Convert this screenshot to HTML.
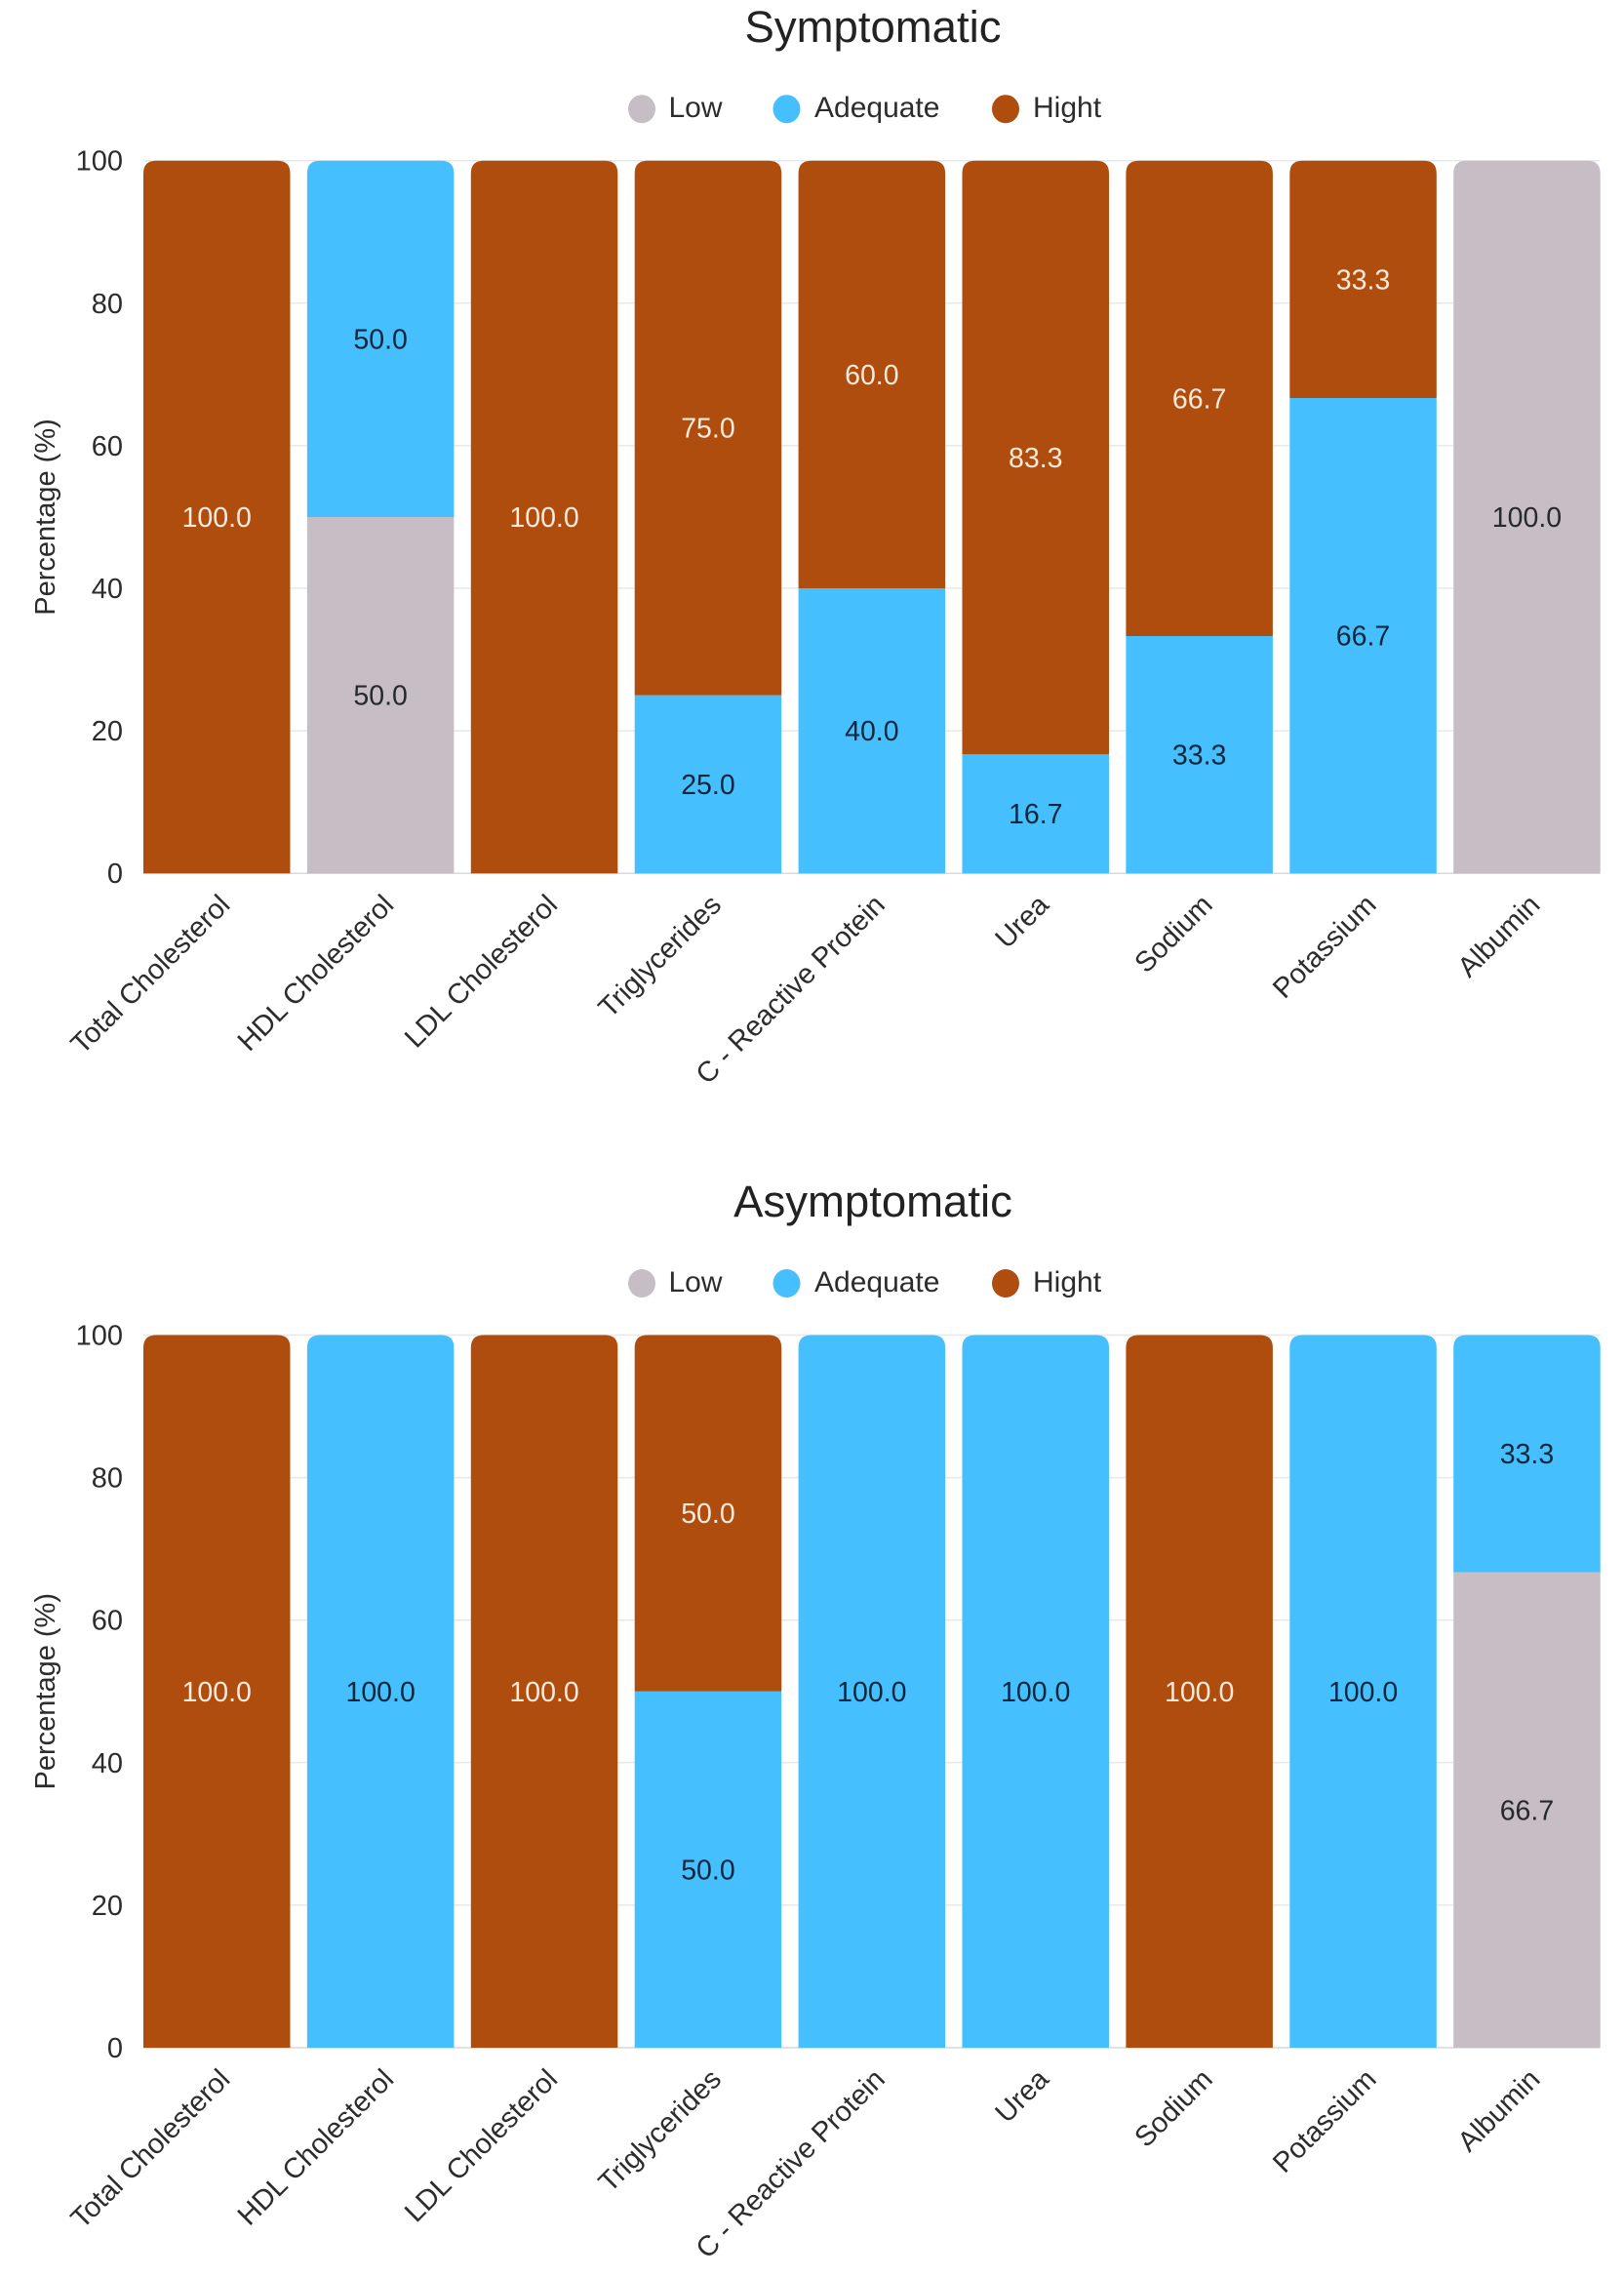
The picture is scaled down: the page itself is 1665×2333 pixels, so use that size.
<!DOCTYPE html>
<html lang="en">
<head>
<meta charset="utf-8">
<title>Symptomatic and Asymptomatic stacked bars</title>
<style>
  html, body { margin: 0; padding: 0; background: #fff; }
  #stage { display: block; width: 1665px; height: 2333px; }
  text { font-family: "Liberation Sans", sans-serif; }
</style>
</head>
<body>
<svg id="stage" xmlns="http://www.w3.org/2000/svg" width="1665" height="2333" viewBox="0 0 1665 2333"></svg>
<script>
const categories = ["Total Cholesterol", "HDL Cholesterol", "LDL Cholesterol", "Triglycerides", "C - Reactive Protein", "Urea", "Sodium", "Potassium", "Albumin"];
const yTicks = [0, 20, 40, 60, 80, 100];
const seriesNames = ["Low", "Adequate", "Hight"];

const symptomaticLow = [0, 50, 0, 0, 0, 0, 0, 0, 100];
const symptomaticAdequate = [0, 50, 0, 25, 40, 16.7, 33.3, 66.7, 0];
const symptomaticHigh = [100, 0, 100, 75, 60, 83.3, 66.7, 33.3, 0];

const asymptomaticLow = [0, 0, 0, 0, 0, 0, 0, 0, 66.7];
const asymptomaticAdequate = [0, 100, 0, 50, 100, 100, 0, 100, 33.3];
const asymptomaticHigh = [100, 0, 100, 50, 0, 0, 100, 0, 0];

const NS = "http://www.w3.org/2000/svg";
const stage = document.getElementById("stage");
const seriesColors = ["#c6bdc5", "#45bffd", "#ae4d0e"];
const labelColors = ["#26292e", "#10263a", "#fdeadb"];
const plotLeft = 147;
const plotRight = 1640.5;
const slotWidth = 167.9;
const barWidth = 150.5;
const plotHeight = 730.5;

function xBand(index) { return plotLeft + index * slotWidth; }
function yScale(value, top) { return top + plotHeight * (1 - value / 100); }

function svgEl(tag, parent) {
  const el = document.createElementNS(NS, tag);
  parent.appendChild(el);
  return el;
}

function setAttrs(el, attrs) {
  Object.keys(attrs).forEach(function (k) { el.setAttribute(k, attrs[k]); });
}

function segmentPath(x, yTop, yBottom, width, radius) {
  if (radius === 0) {
    return "M" + x + " " + yBottom + "V" + yTop + "H" + (x + width) + "V" + yBottom + "Z";
  }
  return "M" + x + " " + yBottom + "V" + (yTop + radius) +
    "Q" + x + " " + yTop + " " + (x + radius) + " " + yTop +
    "H" + (x + width - radius) +
    "Q" + (x + width) + " " + yTop + " " + (x + width) + " " + (yTop + radius) +
    "V" + yBottom + "Z";
}

function drawChart(title, top, low, adequate, high) {
  const slug = title.toLowerCase();
  const g = svgEl("g", stage);
  
  

  const titleEl = svgEl("text", g);
  setAttrs(titleEl, { x: 895, y: top - 121.5, "text-anchor": "middle", "font-size": 45.5, fill: "#222" });
  titleEl.textContent = title;
  
  

  const legendCircleX = [658, 806.5, 1031];
  const legendTextX = [685.5, 835, 1059];
  seriesNames.forEach(function (name, s) {
    const entry = svgEl("g", g);
    
    
    const dot = svgEl("ellipse", entry);
    setAttrs(dot, { cx: legendCircleX[s], cy: top - 53, rx: 14, ry: 14.5, fill: seriesColors[s] });
    
    
    const label = svgEl("text", entry);
    setAttrs(label, { x: legendTextX[s], y: top - 44.5, "font-size": 30, fill: "#2c2c2c" });
    label.textContent = name;
    
    
  });

  yTicks.forEach(function (tick) {
    const y = yScale(tick, top);
    const line = svgEl("line", g);
    setAttrs(line, { x1: plotLeft, x2: plotRight, y1: y, y2: y, stroke: tick === 0 ? "#d9d9d9" : "#e8e8e8", "stroke-width": 1.5 });
    
    
    const label = svgEl("text", g);
    setAttrs(label, { x: 126, y: y + 10, "text-anchor": "end", "font-size": 29, fill: "#2c2c2c" });
    label.textContent = tick;
    
    
  });

  const yTitle = svgEl("text", g);
  setAttrs(yTitle, { transform: "translate(56 " + yScale(50, top) + ") rotate(-90)", "text-anchor": "middle", "font-size": 29, fill: "#2c2c2c" });
  yTitle.textContent = "Percentage (%)";
  
  

  categories.forEach(function (cat, i) {
    const x = xBand(i);
    const values = [low[i], adequate[i], high[i]];
    let cumulative = 0;
    let topSeries = 0;
    values.forEach(function (v, s) { if (v > 0) { topSeries = s; } });
    values.forEach(function (v, s) {
      if (v <= 0) { return; }
      const yBottom = yScale(cumulative, top);
      const yTop = yScale(cumulative + v, top);
      const bar = svgEl("path", g);
      setAttrs(bar, { d: segmentPath(x, yTop, yBottom, barWidth, s === topSeries ? 13 : 0), fill: seriesColors[s] });
      
      
      const valueLabel = svgEl("text", g);
      setAttrs(valueLabel, { x: x + barWidth / 2, y: (yTop + yBottom) / 2 + 10, "text-anchor": "middle", "font-size": 28.5, fill: labelColors[s] });
      valueLabel.textContent = v.toFixed(1);
      
      
      cumulative += v;
    });

    const tickLabel = svgEl("text", g);
    const tx = x + barWidth / 2 + 15;
    const ty = yScale(0, top) + 34;
    setAttrs(tickLabel, { transform: "translate(" + tx + " " + ty + ") rotate(-45)", "text-anchor": "end", "font-size": 29, fill: "#2c2c2c" });
    tickLabel.textContent = cat;
    
    
  });
}

drawChart("Symptomatic", 164.7, symptomaticLow, symptomaticAdequate, symptomaticHigh);
drawChart("Asymptomatic", 1368.5, asymptomaticLow, asymptomaticAdequate, asymptomaticHigh);
</script>
</body>
</html>
